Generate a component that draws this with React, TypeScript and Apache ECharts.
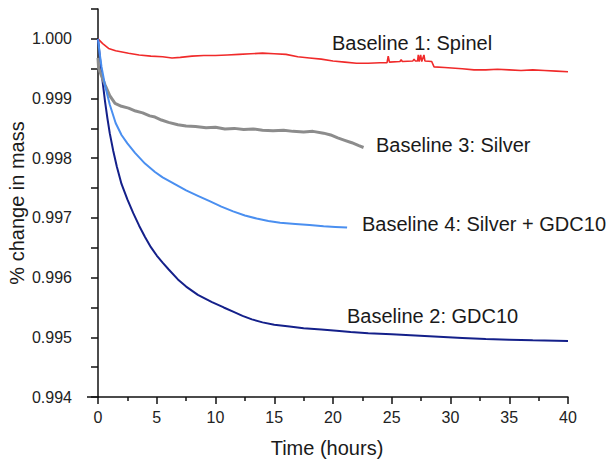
import React, { useEffect, useRef } from "react";
import * as echarts from "echarts";

// Baseline 1: Spinel (time in hours, fraction of mass)
const spinelTime = [0, 0.4, 0.9, 1.5, 2.6, 3.5, 4.5, 5.5, 6.3, 7, 8, 9, 10, 11, 12, 13, 14, 15, 16, 17, 18, 19, 20, 21, 22, 23, 24, 24.6, 24.7, 24.8, 25.7, 25.8, 25.9, 26.8, 26.9, 27.0, 27.2, 27.26, 27.33, 27.46, 27.55, 27.74, 27.82, 28.4, 28.6, 29.5, 31, 32, 33, 34, 35, 36, 37, 38, 39, 40];
const spinelMass = [1.0, 0.99992, 0.99984, 0.9998, 0.99976, 0.99973, 0.99971, 0.9997, 0.99968, 0.99969, 0.99971, 0.99972, 0.99972, 0.99973, 0.99974, 0.99975, 0.99976, 0.99975, 0.99974, 0.9997, 0.99968, 0.99966, 0.99963, 0.99961, 0.99959, 0.99959, 0.9996, 0.9996, 0.99971, 0.99961, 0.99962, 0.99965, 0.99962, 0.99963, 0.99966, 0.99963, 0.99963, 0.99973, 0.99962, 0.99973, 0.99962, 0.99973, 0.99963, 0.99962, 0.99953, 0.99952, 0.9995, 0.99948, 0.99948, 0.99949, 0.99948, 0.99947, 0.99948, 0.99947, 0.99946, 0.99945];

// Baseline 2: GDC10
const gdcTime = [0, 0.2, 0.4, 0.6, 0.8, 1.0, 1.3, 1.6, 2.0, 2.5, 3.0, 3.5, 4.0, 4.5, 5, 5.5, 6, 6.8, 7.5, 8.5, 9.7, 10.7, 11.5, 12.3, 13.1, 14, 15, 16.3, 17.5, 19, 20.3, 21.5, 23, 25, 27, 29, 31, 33, 35, 37, 40];
const gdcMass = [1.0, 0.99962, 0.99927, 0.99895, 0.99867, 0.99842, 0.99812, 0.99786, 0.99757, 0.99731, 0.99708, 0.99687, 0.99668, 0.99651, 0.99637, 0.99625, 0.99614, 0.99597, 0.99585, 0.99571, 0.99559, 0.9955, 0.99543, 0.99536, 0.9953, 0.99525, 0.99521, 0.99518, 0.99515, 0.99513, 0.99511, 0.99509, 0.99507, 0.99505, 0.99503, 0.99501, 0.99499, 0.99497, 0.99496, 0.99495, 0.99494];

// Baseline 3: Silver
const silverTime = [0, 0.05, 0.3, 0.6, 1.0, 1.45, 2.0, 2.6, 3.2, 3.8, 4.4, 4.85, 5.4, 6, 6.8, 7.5, 8.3, 9.2, 10, 10.8, 11.6, 12.4, 13.2, 14, 14.9, 15.8, 16.6, 17.5, 18.3, 19.2, 19.8, 20.4, 21, 21.6, 22.2, 22.6];
const silverMass = [0.99968, 0.99951, 0.99938, 0.99923, 0.99905, 0.99892, 0.99887, 0.99884, 0.99879, 0.99876, 0.99871, 0.99869, 0.99864, 0.9986, 0.99856, 0.99854, 0.99853, 0.99851, 0.99852, 0.99849, 0.9985, 0.99848, 0.99849, 0.99847, 0.99846, 0.99847, 0.99845, 0.99844, 0.99845, 0.99842, 0.99839, 0.99834, 0.9983, 0.99826, 0.99821, 0.99818];

// Baseline 4: Silver + GDC10
const silverGdcTime = [0, 0.15, 0.3, 0.6, 1.0, 1.5, 2.0, 2.5, 3.15, 4.0, 4.85, 5.5, 6.5, 7.5, 8.5, 9.5, 10.5, 11.5, 12.5, 13.5, 14.5, 15.5, 16.8, 18, 19.2, 20.2, 21.2];
const silverGdcMass = [1.0, 0.99975, 0.99953, 0.99922, 0.9989, 0.99859, 0.99839, 0.99825, 0.99809, 0.99791, 0.99777, 0.99768, 0.99757, 0.99746, 0.99737, 0.99728, 0.99719, 0.99711, 0.99704, 0.99699, 0.99695, 0.99692, 0.9969, 0.99688, 0.99686, 0.99685, 0.99684];

const seriesNames = ["Baseline 1: Spinel", "Baseline 2: GDC10", "Baseline 3: Silver", "Baseline 4: Silver + GDC10"];
const xTitle = "Time (hours)";
const yTitle = "% change in mass";

const pair = (t: number[], v: number[]) => t.map((x, i) => [x, v[i]]);

const FONT = '"Liberation Sans", Arial, sans-serif';

export default function App() {
  const ref = useRef<HTMLDivElement>(null);
  useEffect(() => {
    if (!ref.current) return;
    const chart = echarts.init(ref.current, null, { renderer: "svg" });
    const annotation = (text: string, x: number, y: number) => ({
      type: "text",
      x,
      y,
      style: { text, font: `20px ${FONT}`, fill: "#1a1a1a", align: "left", verticalAlign: "middle" },
    });
    chart.setOption({
      animation: false,
      backgroundColor: "#ffffff",
      textStyle: { fontFamily: FONT },
      grid: { left: 98, right: 39, top: 9, bottom: 65 },
      xAxis: {
        type: "value",
        min: 0,
        max: 40,
        interval: 5,
        axisLine: { show: true, lineStyle: { color: "#111", width: 1.5 } },
        axisTick: { show: true, inside: false, length: 7, lineStyle: { color: "#111", width: 1.5 } },
        minorTick: { show: true, splitNumber: 2, length: 4, lineStyle: { color: "#111", width: 1.5 } },
        axisLabel: { color: "#222", fontSize: 16, margin: 12, fontFamily: FONT },
        splitLine: { show: false },
      },
      yAxis: {
        type: "value",
        min: 0.994,
        max: 1.0005,
        interval: 0.0005,
        offset: 11,
        axisLine: { show: true, lineStyle: { color: "#111", width: 1.5 } },
        axisTick: { show: true, inside: false, length: 7, lineStyle: { color: "#111", width: 1.5 } },
        axisLabel: {
          color: "#222",
          fontSize: 16,
          margin: 15,
          fontFamily: FONT,
          formatter: (v: number) => {
            const k = v * 1000;
            if (Math.abs(k - Math.round(k)) < 1e-6 && v <= 1.0000001) return v.toFixed(3);
            return "";
          },
        },
        splitLine: { show: false },
      },
      series: [
        {
          name: seriesNames[0],
          type: "line",
          data: pair(spinelTime, spinelMass),
          showSymbol: false,
          lineStyle: { color: "#f02a2a", width: 1.6 },
          itemStyle: { color: "#f02a2a" },
        },
        {
          name: seriesNames[1],
          type: "line",
          data: pair(gdcTime, gdcMass),
          showSymbol: false,
          lineStyle: { color: "#14208a", width: 2 },
          itemStyle: { color: "#14208a" },
        },
        {
          name: seriesNames[2],
          type: "line",
          data: pair(silverTime, silverMass),
          showSymbol: false,
          lineStyle: { color: "#8c8c8c", width: 3 },
          itemStyle: { color: "#8c8c8c" },
        },
        {
          name: seriesNames[3],
          type: "line",
          data: pair(silverGdcTime, silverGdcMass),
          showSymbol: false,
          lineStyle: { color: "#4a8ff0", width: 2 },
          itemStyle: { color: "#4a8ff0" },
        },
      ],
      graphic: [
        { type: "line", shape: { x1: 87, y1: 397, x2: 99, y2: 397 }, style: { stroke: "#111", lineWidth: 1.5 } },
        annotation(seriesNames[0], 332, 43),
        annotation(seriesNames[2], 376, 145),
        annotation(seriesNames[3], 362, 224),
        annotation(seriesNames[1], 347, 316),
        {
          type: "text",
          x: 327,
          y: 448,
          style: { text: xTitle, font: `20px ${FONT}`, fill: "#1a1a1a", align: "center", verticalAlign: "middle" },
        },
        {
          type: "text",
          x: 17,
          y: 203,
          rotation: Math.PI / 2,
          style: { text: yTitle, font: `20px ${FONT}`, fill: "#1a1a1a", align: "center", verticalAlign: "middle" },
        },
      ],
    });
    return () => chart.dispose();
  }, []);
  return <div ref={ref} style={{ position: "fixed", left: 0, top: 0, width: 607, height: 462 }} />;
}
